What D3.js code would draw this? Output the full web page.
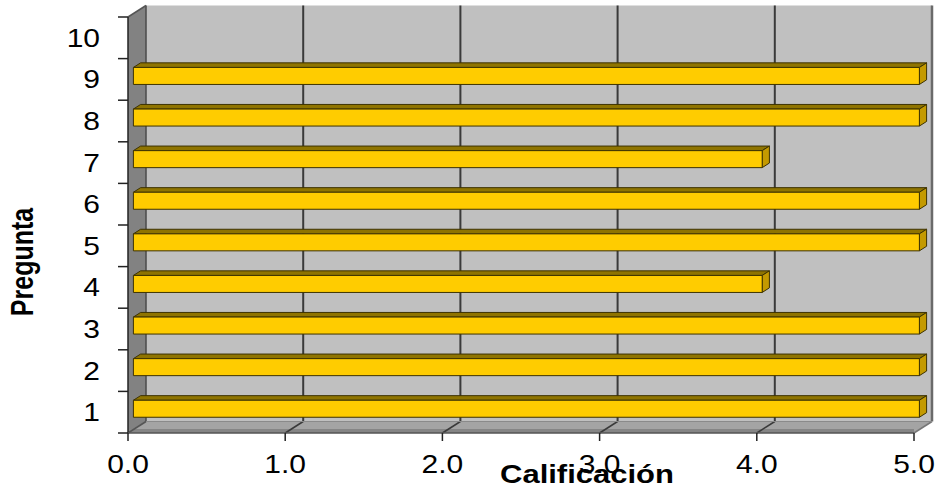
<!DOCTYPE html>
<html>
<head>
<meta charset="utf-8">
<script src="https://cdn.jsdelivr.net/npm/d3@7"></script>
<style>
  html, body { margin: 0; padding: 0; background: #fff; }
  svg { display: block; }
  text { font-family: "Liberation Sans", Arial, sans-serif; fill: #000; }
</style>
</head>
<body>
<div id="chart"></div>
<script>
// Data: rating given to each question
const categories = ["1", "2", "3", "4", "5", "6", "7", "8", "9", "10"];
const values = [5, 5, 5, 4, 5, 5, 4, 5, 5, null];
const xTicks = [0, 1, 2, 3, 4, 5];
const xTickLabels = ["0.0", "1.0", "2.0", "3.0", "4.0", "5.0"];
const xTitle = "Calificación";
const yTitle = "Pregunta";

const W = 935, H = 488;
const svg = d3.select("#chart").append("svg")
  .attr("width", W).attr("height", H);

// Front plane scales
const x = d3.scaleLinear().domain([0, 5]).range([128, 914]);
const yLin = d3.scaleLinear().domain([0, categories.length]).range([433, 17]);
const y = d3.scaleBand().domain(categories).range([433, 17]);

// 3D depth vector of the plot box
const DX = 18, DY = -11.5;
// bar placement inside the depth
const f0 = 0.3, f1 = 0.7;
const barH = 17;

const pts = a => a.map(p => p.join(",")).join(" ");

const x0 = x(0), x5 = x(5), yTop = yLin(categories.length), yBot = yLin(0);

// Back wall
svg.append("rect")
  .attr("x", x0 + DX).attr("y", yTop + DY)
  .attr("width", x5 - x0).attr("height", yBot - yTop)
  .attr("fill", "#c0c0c0");

// Left side wall
svg.append("polygon")
  .attr("points", pts([[x0, yTop], [x0 + DX, yTop + DY], [x0 + DX, yBot + DY], [x0, yBot]]))
  .attr("fill", "#828282");

// Floor
svg.append("polygon")
  .attr("points", pts([[x0, yBot], [x0 + DX, yBot + DY], [x5 + DX, yBot + DY], [x5, yBot]]))
  .attr("fill", "#a4a4a4");
svg.append("line")
  .attr("x1", x0).attr("x2", x5).attr("y1", yBot - 2).attr("y2", yBot - 2)
  .attr("stroke", "#858585").attr("stroke-width", 4);

// Gridlines on back wall and floor
const grid = svg.append("g").attr("stroke", "#3a3a3a").attr("stroke-width", 2);
xTicks.filter(t => t > 0 && t < 5).forEach(t => {
  grid.append("line")
    .attr("x1", x(t) + DX).attr("x2", x(t) + DX)
    .attr("y1", yTop + DY).attr("y2", yBot + DY);
  grid.append("line")
    .attr("x1", x(t)).attr("x2", x(t) + DX)
    .attr("y1", yBot).attr("y2", yBot + DY)
    .attr("stroke-width", 1.5);
});

// Box edges
const edges = svg.append("g").attr("stroke", "#4a4a4a").attr("stroke-width", 1.5).attr("fill", "none");
edges.append("line").attr("x1", x0 + DX).attr("x2", x0 + DX).attr("y1", yTop + DY).attr("y2", yBot + DY);
edges.append("line").attr("x1", x5 + DX).attr("x2", x5 + DX).attr("y1", yTop + DY).attr("y2", yBot + DY)
  .attr("stroke", "#6a6a6a").attr("stroke-width", 2.5);
edges.append("line").attr("x1", x0).attr("x2", x0 + DX).attr("y1", yTop).attr("y2", yTop + DY)
  .attr("stroke", "#555");
edges.append("line").attr("x1", x0).attr("x2", x0 + DX).attr("y1", yBot).attr("y2", yBot + DY)
  .attr("stroke", "#555");
edges.append("line").attr("x1", x5).attr("x2", x5 + DX).attr("y1", yBot).attr("y2", yBot + DY)
  .attr("stroke", "#777");
edges.append("line").attr("x1", x0 + DX).attr("x2", x5 + DX).attr("y1", yBot + DY).attr("y2", yBot + DY)
  .attr("stroke", "#8a8a8a").attr("stroke-width", 1);

// Bars
const bars = svg.append("g").attr("stroke", "#3d3200").attr("stroke-width", 1).attr("stroke-linejoin", "round");
categories.forEach((c, i) => {
  const v = values[i];
  if (v == null) return;
  const yc = y(c) + y.bandwidth() / 2;
  const ox = DX * f0, oy = DY * f0;
  const bdx = DX * (f1 - f0), bdy = DY * (f1 - f0);
  const xa = x(0) + ox, xb = x(v) + ox;
  const yT = yc + oy - barH / 2, yB = yT + barH;
  // top face
  bars.append("polygon")
    .attr("points", pts([[xa, yT], [xa + bdx, yT + bdy], [xb + bdx, yT + bdy], [xb, yT]]))
    .attr("fill", "#8f7400");
  // end cap
  bars.append("polygon")
    .attr("points", pts([[xb, yT], [xb + bdx, yT + bdy], [xb + bdx, yB + bdy], [xb, yB]]))
    .attr("fill", "#c49a00");
  // front face
  bars.append("rect")
    .attr("x", xa).attr("y", yT).attr("width", xb - xa).attr("height", barH)
    .attr("fill", "#ffcc00");
});

// Axes lines and ticks
const ax = svg.append("g").attr("stroke", "#222").attr("stroke-width", 1.5);
ax.append("line").attr("x1", x0).attr("x2", x0).attr("y1", yTop).attr("y2", yBot);
ax.append("line").attr("x1", x0).attr("x2", x5).attr("y1", yBot).attr("y2", yBot).attr("stroke", "#555");
d3.range(0, categories.length + 1).forEach(k => {
  ax.append("line").attr("x1", x0 - 10).attr("x2", x0)
    .attr("y1", yLin(k)).attr("y2", yLin(k));
});
xTicks.forEach(t => {
  ax.append("line").attr("x1", x(t)).attr("x2", x(t))
    .attr("y1", yBot).attr("y2", yBot + 8);
});

// Tick labels (wide lettering)
const SX = 1.2;
categories.forEach(c => {
  const yc = y(c) + y.bandwidth() / 2;
  svg.append("g").attr("transform", `translate(100,${yc + 9}) scale(${SX},1)`)
    .append("text").attr("text-anchor", "end").attr("font-size", 25).text(c);
});
xTicks.forEach((t, i) => {
  svg.append("g").attr("transform", `translate(${x(t)},473) scale(${SX},1)`)
    .append("text").attr("text-anchor", "middle").attr("font-size", 25).text(xTickLabels[i]);
});

// Axis titles
svg.append("g").attr("transform", `translate(587,483) scale(1.24,1)`)
  .append("text").attr("text-anchor", "middle").attr("font-size", 25)
  .attr("font-weight", "bold").text(xTitle);
svg.append("g").attr("transform", `translate(33,262) scale(1.22,1) rotate(-90)`)
  .append("text").attr("text-anchor", "middle").attr("font-size", 25)
  .attr("font-weight", "bold").text(yTitle);
</script>
</body>
</html>
